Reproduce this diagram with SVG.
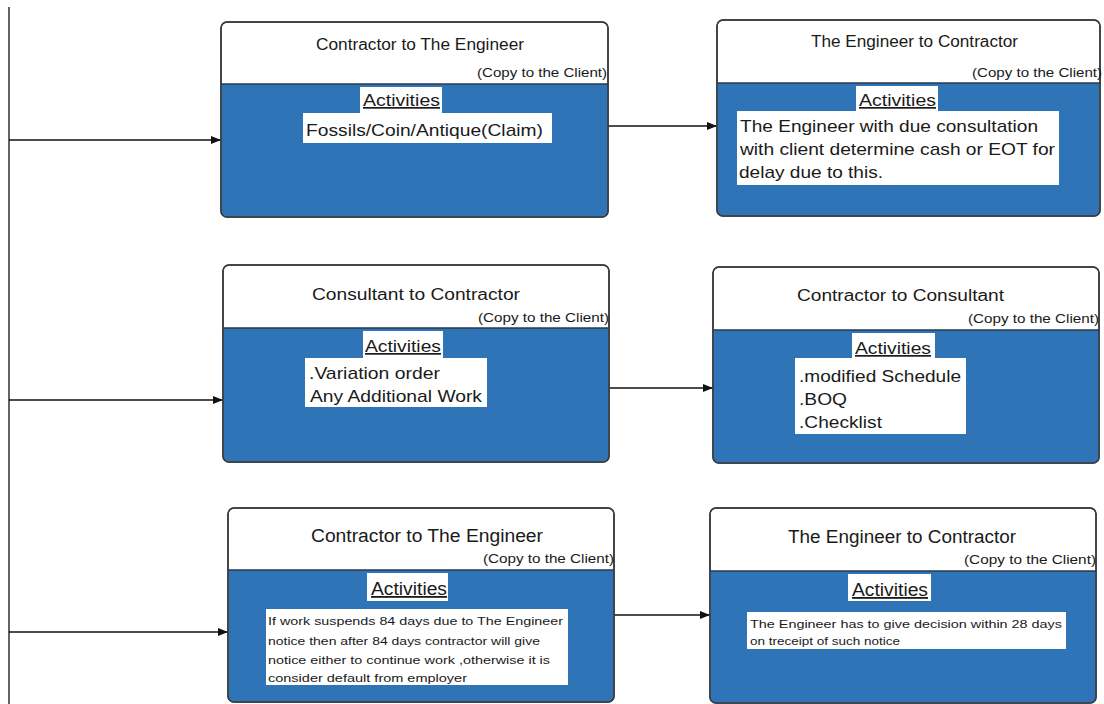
<svg xmlns="http://www.w3.org/2000/svg" width="1104" height="704" viewBox="0 0 1104 704">
  <style>
    .frame { fill: #ffffff; stroke: #3a3a3a; stroke-width: 1.5; }
    .body { fill: #2e74b7; }
    .divider { stroke: #2a3a4a; stroke-width: 1.5; }
    .box { fill: #ffffff; }
    text { font-family: "Liberation Sans", Arial, sans-serif; fill: #1a1a1a; }
    .title { font-size: 16px; }
    .copy { font-size: 13px; }
    .act { font-size: 17px; text-decoration: underline; }
    .item { font-size: 17px; }
    .small { font-size: 11.5px; }
    .link { stroke: #111111; stroke-width: 1.3; fill: none; }
  </style>
  <defs>
    <marker id="arrow" viewBox="0 0 10 8" refX="10" refY="4" markerWidth="10" markerHeight="8" markerUnits="userSpaceOnUse" orient="auto">
      <path d="M0,0 L10,4 L0,8 z" fill="#111111"/>
    </marker>
    <clipPath id="c1"><rect x="221" y="22" width="387" height="195" rx="6"/></clipPath>
    <clipPath id="c2"><rect x="717" y="20" width="383" height="196" rx="6"/></clipPath>
    <clipPath id="c3"><rect x="223" y="265" width="386" height="197" rx="6"/></clipPath>
    <clipPath id="c4"><rect x="713" y="267" width="386" height="196" rx="6"/></clipPath>
    <clipPath id="c5"><rect x="228" y="508" width="386" height="194" rx="6"/></clipPath>
    <clipPath id="c6"><rect x="710" y="508" width="386" height="195" rx="6"/></clipPath>
  </defs>

  <!-- connectors -->
  <g id="connectors">
    <line class="link" x1="9" y1="7" x2="9" y2="704"/>
    <line class="link" x1="9" y1="140" x2="221" y2="140" marker-end="url(#arrow)"/>
    <line class="link" x1="9" y1="400" x2="223" y2="400" marker-end="url(#arrow)"/>
    <line class="link" x1="9" y1="632" x2="228" y2="632" marker-end="url(#arrow)"/>
    <line class="link" x1="608" y1="126" x2="717" y2="126" marker-end="url(#arrow)"/>
    <line class="link" x1="609" y1="388" x2="713" y2="388" marker-end="url(#arrow)"/>
    <line class="link" x1="614" y1="615" x2="710" y2="615" marker-end="url(#arrow)"/>
  </g>

  <!-- row 1, left -->
  <g id="node-contractor-engineer-1">
    <rect class="frame" x="221" y="22" width="387" height="195" rx="6"/>
    <rect class="body" x="221" y="84" width="387" height="133" clip-path="url(#c1)"/>
    <line class="divider" x1="221" y1="84" x2="608" y2="84"/>
    <rect class="frame" x="221" y="22" width="387" height="195" rx="6" fill="none" style="fill:none"/>
    <text class="title" x="316" y="50" textLength="208" lengthAdjust="spacingAndGlyphs">Contractor to The Engineer</text>
    <text class="copy" x="477" y="77" textLength="130" lengthAdjust="spacingAndGlyphs">(Copy to the Client)</text>
    <rect class="box" x="360" y="87" width="82" height="26"/>
    <text class="act" x="363" y="106" textLength="77" lengthAdjust="spacingAndGlyphs">Activities</text>
    <rect class="box" x="303" y="113" width="249" height="30"/>
    <text class="item" x="306" y="136" textLength="237" lengthAdjust="spacingAndGlyphs">Fossils/Coin/Antique(Claim)</text>
  </g>

  <!-- row 1, right -->
  <g id="node-engineer-contractor-1">
    <rect class="frame" x="717" y="20" width="383" height="196" rx="6"/>
    <rect class="body" x="717" y="83" width="383" height="133" clip-path="url(#c2)"/>
    <line class="divider" x1="717" y1="83" x2="1100" y2="83"/>
    <rect class="frame" x="717" y="20" width="383" height="196" rx="6" style="fill:none"/>
    <text class="title" x="811" y="47" textLength="207" lengthAdjust="spacingAndGlyphs">The Engineer to Contractor</text>
    <text class="copy" x="972" y="77" textLength="130" lengthAdjust="spacingAndGlyphs">(Copy to the Client)</text>
    <rect class="box" x="856" y="86" width="82" height="25"/>
    <text class="act" x="859" y="106" textLength="77" lengthAdjust="spacingAndGlyphs">Activities</text>
    <rect class="box" x="737" y="111" width="322" height="74"/>
    <text class="item" x="740" y="132" textLength="298" lengthAdjust="spacingAndGlyphs">The Engineer with due consultation</text>
    <text class="item" x="740" y="155" textLength="315" lengthAdjust="spacingAndGlyphs">with client determine cash or EOT for</text>
    <text class="item" x="739" y="178" textLength="144" lengthAdjust="spacingAndGlyphs">delay due to this.</text>
  </g>

  <!-- row 2, left -->
  <g id="node-consultant-contractor">
    <rect class="frame" x="223" y="265" width="386" height="197" rx="6"/>
    <rect class="body" x="223" y="328" width="386" height="134" clip-path="url(#c3)"/>
    <line class="divider" x1="223" y1="328" x2="609" y2="328"/>
    <rect class="frame" x="223" y="265" width="386" height="197" rx="6" style="fill:none"/>
    <text class="title" x="312" y="300" textLength="208" lengthAdjust="spacingAndGlyphs">Consultant to Contractor</text>
    <text class="copy" x="478" y="322" textLength="131" lengthAdjust="spacingAndGlyphs">(Copy to the Client)</text>
    <rect class="box" x="363" y="331" width="80" height="27"/>
    <text class="act" x="365" y="352" textLength="76" lengthAdjust="spacingAndGlyphs">Activities</text>
    <rect class="box" x="305" y="358" width="182" height="49"/>
    <text class="item" x="309" y="379" textLength="131" lengthAdjust="spacingAndGlyphs">.Variation order</text>
    <text class="item" x="310" y="402" textLength="172" lengthAdjust="spacingAndGlyphs">Any Additional Work</text>
  </g>

  <!-- row 2, right -->
  <g id="node-contractor-consultant">
    <rect class="frame" x="713" y="267" width="386" height="196" rx="6"/>
    <rect class="body" x="713" y="330" width="386" height="133" clip-path="url(#c4)"/>
    <line class="divider" x1="713" y1="330" x2="1099" y2="330"/>
    <rect class="frame" x="713" y="267" width="386" height="196" rx="6" style="fill:none"/>
    <text class="title" x="797" y="301" textLength="207" lengthAdjust="spacingAndGlyphs">Contractor to Consultant</text>
    <text class="copy" x="968" y="323" textLength="131" lengthAdjust="spacingAndGlyphs">(Copy to the Client)</text>
    <rect class="box" x="852" y="333" width="83" height="25"/>
    <text class="act" x="855" y="354" textLength="76" lengthAdjust="spacingAndGlyphs">Activities</text>
    <rect class="box" x="795" y="358" width="171" height="76"/>
    <text class="item" x="799" y="382" textLength="162" lengthAdjust="spacingAndGlyphs">.modified Schedule</text>
    <text class="item" x="799" y="405" textLength="48" lengthAdjust="spacingAndGlyphs">.BOQ</text>
    <text class="item" x="799" y="428" textLength="83" lengthAdjust="spacingAndGlyphs">.Checklist</text>
  </g>

  <!-- row 3, left -->
  <g id="node-contractor-engineer-2">
    <rect class="frame" x="228" y="508" width="386" height="194" rx="6"/>
    <rect class="body" x="228" y="570" width="386" height="132" clip-path="url(#c5)"/>
    <line class="divider" x1="228" y1="570" x2="614" y2="570"/>
    <rect class="frame" x="228" y="508" width="386" height="194" rx="6" style="fill:none"/>
    <text class="title" x="311" y="542" textLength="232" lengthAdjust="spacingAndGlyphs" style="font-size:18px">Contractor to The Engineer</text>
    <text class="copy" x="483" y="563" textLength="131" lengthAdjust="spacingAndGlyphs">(Copy to the Client)</text>
    <rect class="box" x="367" y="573" width="81" height="28"/>
    <text class="act" x="371" y="595" textLength="76" lengthAdjust="spacingAndGlyphs" style="font-size:18px">Activities</text>
    <rect class="box" x="266" y="609" width="302" height="76"/>
    <text class="small" x="268" y="625" textLength="295" lengthAdjust="spacingAndGlyphs">If work suspends 84 days due to The Engineer</text>
    <text class="small" x="268" y="645" textLength="272" lengthAdjust="spacingAndGlyphs">notice then after 84 days contractor will give</text>
    <text class="small" x="268" y="664" textLength="282" lengthAdjust="spacingAndGlyphs">notice either to continue work ,otherwise it is</text>
    <text class="small" x="268" y="682" textLength="199" lengthAdjust="spacingAndGlyphs">consider default from employer</text>
  </g>

  <!-- row 3, right -->
  <g id="node-engineer-contractor-2">
    <rect class="frame" x="710" y="508" width="386" height="195" rx="6"/>
    <rect class="body" x="710" y="571" width="386" height="132" clip-path="url(#c6)"/>
    <line class="divider" x1="710" y1="571" x2="1096" y2="571"/>
    <rect class="frame" x="710" y="508" width="386" height="195" rx="6" style="fill:none"/>
    <text class="title" x="788" y="543" textLength="228" lengthAdjust="spacingAndGlyphs" style="font-size:18px">The Engineer to Contractor</text>
    <text class="copy" x="964" y="564" textLength="132" lengthAdjust="spacingAndGlyphs">(Copy to the Client)</text>
    <rect class="box" x="848" y="574" width="83" height="27"/>
    <text class="act" x="852" y="596" textLength="76" lengthAdjust="spacingAndGlyphs" style="font-size:18px">Activities</text>
    <rect class="box" x="747" y="612" width="319" height="37"/>
    <text class="small" x="750" y="628" textLength="312" lengthAdjust="spacingAndGlyphs">The Engineer has to give decision within 28 days</text>
    <text class="small" x="750" y="645" textLength="150" lengthAdjust="spacingAndGlyphs">on treceipt of such notice</text>
  </g>
</svg>
